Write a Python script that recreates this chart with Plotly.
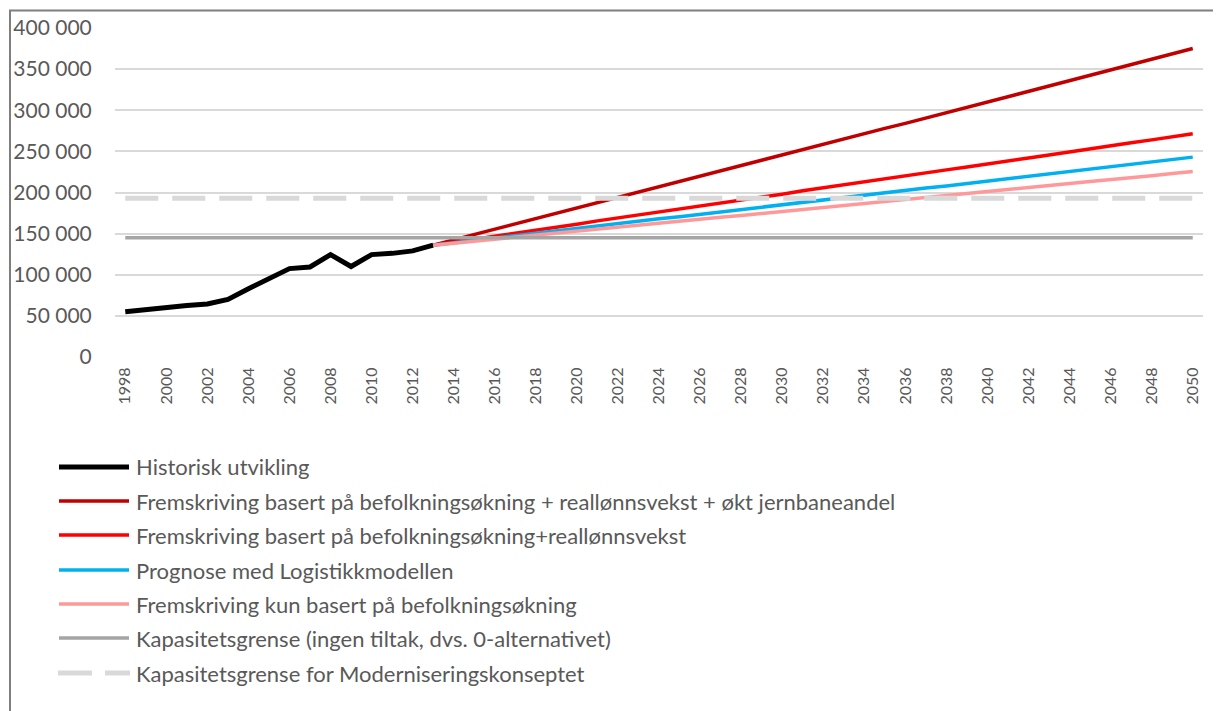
import plotly.graph_objects as go

# ---------------- data ----------------
hist_years = list(range(1998, 2014))
hist_values = [55000, 58000, 60500, 62500, 64500, 70000, 83000, 96000,
               107500, 109500, 124500, 110000, 124500, 126000, 129000, 136000]

proj_years = list(range(2013, 2051))
proj_high = [136000, 142500, 149000, 155500, 162000, 168000, 174500, 181000,
             187500, 194000, 200500, 207000, 213500, 220000, 226000, 232500,
             239000, 245500, 252000, 258500, 265000, 271500, 278000, 284000,
             290500, 297000, 303500, 310000, 316500, 323000, 329500, 336000,
             342000, 348500, 355000, 361500, 368000, 375000]
proj_mid = [136000, 139500, 143500, 147000, 150500, 154500, 158000, 161500,
            165500, 169000, 172500, 176500, 180000, 183500, 187000, 191000,
            194500, 198000, 202000, 205500, 209000, 213000, 216500, 220000,
            224000, 227500, 231000, 235000, 238500, 242000, 245500, 249500,
            253000, 256500, 260500, 264000, 267500, 271500]
proj_logit = [136000, 139000, 142000, 144500, 147500, 150500, 153500, 156000,
              159000, 162000, 165000, 168000, 170500, 173500, 176500, 179500,
              182000, 185000, 188000, 191000, 194000, 196500, 199500, 202500,
              205500, 208000, 211000, 214000, 217000, 220000, 222500, 225500,
              228500, 231500, 234000, 237000, 240000, 243000]
proj_low = [136000, 138500, 141000, 143000, 145500, 148000, 150500, 153000,
            155500, 157500, 160000, 162500, 165000, 167500, 170000, 172000,
            174500, 177000, 179500, 182000, 184500, 186500, 189000, 191500,
            194000, 196500, 199000, 201000, 203500, 206000, 208500, 211000,
            213500, 215500, 218000, 220500, 223000, 225500]

all_years = list(range(1998, 2051))
cap_base_value = 145000
cap_modern_value = 193000

names = [
    "Historisk utvikling",
    "Fremskriving basert på befolkningsøkning + reallønnsvekst + økt jernbaneandel",
    "Fremskriving basert på befolkningsøkning+reallønnsvekst",
    "Prognose med Logistikkmodellen",
    "Fremskriving kun basert på befolkningsøkning",
    "Kapasitetsgrense (ingen tiltak, dvs. 0-alternativet)",
    "Kapasitetsgrense for Moderniseringskonseptet",
]
colors = ["#000000", "#C00000", "#FF0000", "#00B0F0", "#FF9999", "#A5A5A5", "#D9D9D9"]
widths = [5, 3.5, 3.5, 3.5, 3.5, 3.5, 5]

y_ticks = list(range(0, 400001, 50000))
x_ticks = list(range(1998, 2051, 2))

# ---------------- figure ----------------
OFF = 8  # page body margin
W, H = 1221 - OFF, 711 - OFF
L, R, T, B = 115 - OFF, 18, 28 - OFF, 354
PW, PH = W - L - R, H - T - B

def px_x(p):  # screen pixel -> paper
    return (p - OFF - L) / PW

def px_y(p):
    return (OFF + T + PH - p) / PH

fig = go.Figure()
series = [
    (hist_years, hist_values),
    (proj_years, proj_high),
    (proj_years, proj_mid),
    (proj_years, proj_logit),
    (proj_years, proj_low),
    (all_years, [cap_base_value] * len(all_years)),
    (all_years, [cap_modern_value] * len(all_years)),
]
for i, (xs, ys) in enumerate(series):
    line = dict(color=colors[i], width=widths[i])
    if i == 6:
        line["dash"] = "33px,14px"
    fig.add_trace(go.Scatter(x=xs, y=ys, mode="lines", name=names[i],
                             line=line, showlegend=False))

font_family = "Lato, 'Open Sans', sans-serif"
txt_color = "#595959"

# manual legend
legend_y = [467, 501, 535, 570, 604, 638, 673]
shapes = []
annotations = []
for i, nm in enumerate(names):
    yy = px_y(legend_y[i])
    if i == 6:
        shapes.append(dict(type="line", xref="paper", yref="paper",
                           x0=px_x(58), x1=px_x(92), y0=yy, y1=yy,
                           line=dict(color=colors[i], width=widths[i])))
        shapes.append(dict(type="line", xref="paper", yref="paper",
                           x0=px_x(105), x1=px_x(130), y0=yy, y1=yy,
                           line=dict(color=colors[i], width=widths[i])))
    else:
        shapes.append(dict(type="line", xref="paper", yref="paper",
                           x0=px_x(59), x1=px_x(129), y0=yy, y1=yy,
                           line=dict(color=colors[i], width=widths[i])))
    annotations.append(dict(text=nm, xref="paper", yref="paper",
                            x=px_x(134), y=yy, xanchor="left", yanchor="middle",
                            showarrow=False,
                            font=dict(family=font_family, size=22, color=txt_color)))

# outer border
shapes.append(dict(type="rect", xref="paper", yref="paper",
                   x0=px_x(10), x1=px_x(1219), y0=px_y(730), y1=px_y(10.5),
                   line=dict(color="#7F7F7F", width=2), fillcolor="rgba(0,0,0,0)"))

fig.update_layout(
    width=W, height=H,
    margin=dict(l=L, r=R, t=T, b=B, autoexpand=False),
    paper_bgcolor="white", plot_bgcolor="white",
    shapes=shapes, annotations=annotations,
    showlegend=False,
)
fig.update_xaxes(
    range=[1997.5, 2050.5], automargin=False,
    tickvals=x_ticks, ticktext=[str(v) for v in x_ticks],
    tickangle=-90, showgrid=False, zeroline=False, showline=False,
    tickfont=dict(family=font_family, size=16, color=txt_color),
    ticks="outside", ticklen=3, tickcolor="rgba(0,0,0,0)",
)
fig.update_yaxes(
    range=[0, 400000], automargin=False,
    tickvals=y_ticks, ticktext=[f"{v:,}".replace(",", " ") for v in y_ticks],
    showgrid=True, gridcolor="#D9D9D9", gridwidth=1.5,
    zeroline=False, showline=False,
    tickfont=dict(family=font_family, size=21, color=txt_color),
    ticks="outside", ticklen=18, tickcolor="rgba(0,0,0,0)",
)
fig.write_html("out.html")
